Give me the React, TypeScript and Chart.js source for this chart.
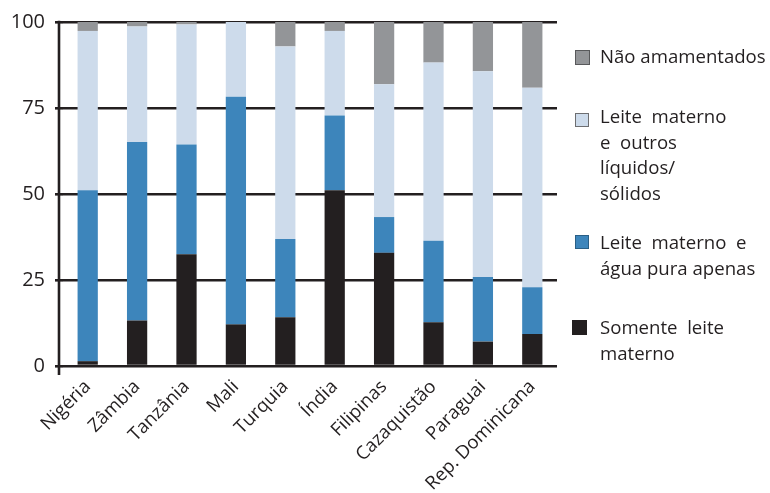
import React, { useEffect, useRef } from "react";
import { Chart, registerables } from "chart.js";

Chart.register(...registerables);

const categories = ["Nigéria", "Zâmbia", "Tanzânia", "Mali", "Turquia", "Índia", "Filipinas", "Cazaquistão", "Paraguai", "Rep. Dominicana"];
const somenteLeite = [1.4, 13.2, 32.5, 12.1, 14.2, 51.1, 32.9, 12.7, 7.1, 9.3];
const leiteAgua = [49.7, 51.9, 31.9, 66.2, 22.7, 21.7, 10.4, 23.7, 18.8, 13.6];
const leiteOutros = [46.3, 33.6, 34.9, 21.7, 56.0, 24.6, 38.6, 51.8, 59.8, 58.0];
const naoAmamentados = [2.6, 1.3, 0.7, 0, 7.1, 2.6, 18.1, 11.8, 14.3, 19.1];
const yTicks = [0, 25, 50, 75, 100];

const seriesNames = ["Somente leite materno", "Leite materno e água pura apenas", "Leite materno e outros líquidos/sólidos", "Não amamentados"];
const colors = ["#231f20", "#3d85bb", "#cddbeb", "#939598"];

const INK = "#231f20";
const FONT = "'Open Sans', sans-serif";

const axisLinePlugin = {
  id: "axisLine",
  beforeDatasetsDraw(chart: any) {
    const { ctx, chartArea } = chart;
    ctx.save();
    ctx.strokeStyle = INK;
    ctx.lineWidth = 2.6;
    ctx.beginPath();
    ctx.moveTo(chartArea.left - 4, chartArea.top - 1.3);
    ctx.lineTo(chartArea.left - 4, chartArea.bottom + 9);
    ctx.stroke();
    ctx.restore();
  },
};

type LegendItem = { lines: string[]; color: string; border: string; sq: [number, number, number]; top: number };
const legendItems: LegendItem[] = [
  { lines: ["Não amamentados"], color: colors[3], border: "#58595b", sq: [575, 50, 15], top: 43 },
  { lines: ["Leite  materno", "e  outros", "líquidos/", "sólidos"], color: colors[2], border: "#6d6e71", sq: [575, 113, 14], top: 103 },
  { lines: ["Leite  materno  e", "água pura apenas"], color: colors[1], border: "#2a5f86", sq: [575, 235, 14], top: 229 },
  { lines: ["Somente  leite", "materno"], color: colors[0], border: INK, sq: [572, 320, 15], top: 314 },
];

export default function App() {
  const canvasRef = useRef<HTMLCanvasElement | null>(null);

  useEffect(() => {
    if (!canvasRef.current) return;
    const data = [somenteLeite, leiteAgua, leiteOutros, naoAmamentados];
    const chart = new Chart(canvasRef.current, {
      type: "bar",
      data: {
        labels: categories,
        datasets: data.map((d, i) => ({
          label: seriesNames[i],
          data: d,
          backgroundColor: colors[i],
          borderWidth: 0,
          categoryPercentage: 1,
          barPercentage: 0.41,
        })),
      },
      options: {
        animation: false,
        responsive: true,
        maintainAspectRatio: false,
        layout: { padding: { top: 20, right: 213, left: 0, bottom: 0 } },
        plugins: { legend: { display: false }, tooltip: { enabled: false } },
        scales: {
          x: {
            stacked: true,
            grid: { display: false },
            border: { display: false },
            ticks: {
              font: { family: FONT, size: 18.5 },
              color: INK,
              maxRotation: 45,
              minRotation: 45,
              autoSkip: false,
              padding: 2,
            },
            afterFit: (s: any) => {
              s.height = 127;
            },
          },
          y: {
            stacked: true,
            min: 0,
            max: 100,
            grid: { color: INK, lineWidth: 2.6, tickLength: 8, drawTicks: true },
            border: { display: false },
            ticks: {
              font: { family: FONT, size: 20 },
              color: INK,
              padding: 10,
            },
            afterBuildTicks: (s: any) => {
              s.ticks = yTicks.map((v) => ({ value: v }));
            },
            afterFit: (s: any) => {
              s.width = 63;
            },
          },
        },
      },
      plugins: [axisLinePlugin],
    });
    return () => chart.destroy();
  }, []);

  return (
    <div style={{ position: "fixed", left: 0, top: 0, width: 770, height: 493, background: "#fff", fontFamily: FONT, color: INK }}>
      <div style={{ position: "absolute", left: 0, top: 0, width: 770, height: 493 }}>
        <canvas ref={canvasRef} />
      </div>
      {legendItems.map((it, i) => (
        <React.Fragment key={i}>
          <div
            style={{
              position: "absolute",
              left: it.sq[0],
              top: it.sq[1],
              width: it.sq[2],
              height: it.sq[2],
              boxSizing: "border-box",
              background: it.color,
              border: `1px solid ${it.border}`,
            }}
          />
          <div
            style={{
              position: "absolute",
              left: 600,
              top: it.top,
              fontSize: 18.6,
              lineHeight: "25.5px",
              whiteSpace: "pre",
            }}
          >
            {it.lines.join("\n")}
          </div>
        </React.Fragment>
      ))}
    </div>
  );
}
